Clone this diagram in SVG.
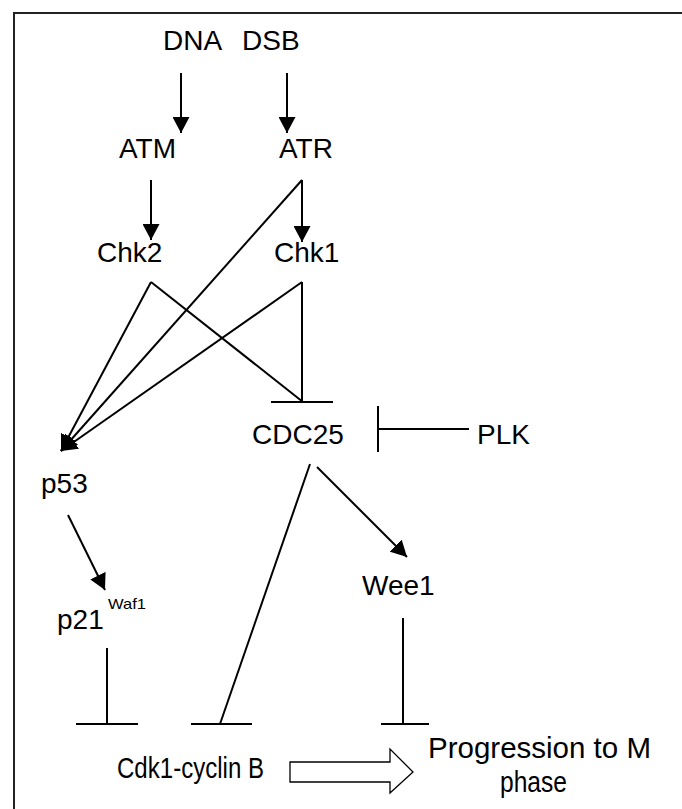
<svg xmlns="http://www.w3.org/2000/svg" width="682" height="809" viewBox="0 0 682 809">
  <style>
    .lbl { font-family: "Liberation Sans", Arial, sans-serif; font-size: 28px; fill: #000; }
    .big { font-family: "Liberation Sans", Arial, sans-serif; font-size: 30px; fill: #000; }
    .sup { font-family: "Liberation Sans", Arial, sans-serif; font-size: 15px; fill: #000; }
    .act { stroke: #000; stroke-width: 2; fill: none; marker-end: url(#arrow); }
    .inh { stroke: #000; stroke-width: 2; fill: none; }
    .bar { stroke: #000; stroke-width: 2; fill: none; }
  </style>
  <defs>
    <marker id="arrow" viewBox="0 0 16 17" refX="16" refY="8.5" markerWidth="16" markerHeight="17" markerUnits="userSpaceOnUse" orient="auto">
      <path d="M0,0 L16,8.5 L0,17 Z" fill="#000"/>
    </marker>
  </defs>

  <rect width="682" height="809" fill="#fff"/>
  <!-- frame (left and top edges) -->
  <polyline points="14,809 14,13 682,13" fill="none" stroke="#222" stroke-width="2"/>

  <!-- nodes -->
  <g id="dna"><text class="lbl" x="163" y="50">DNA</text></g>
  <g id="dsb"><text class="lbl" x="242" y="50">DSB</text></g>
  <g id="atm"><text class="lbl" x="119" y="158">ATM</text></g>
  <g id="atr"><text class="lbl" x="279" y="158">ATR</text></g>
  <g id="chk2"><text class="lbl" x="97" y="262">Chk2</text></g>
  <g id="chk1"><text class="lbl" x="274" y="262">Chk1</text></g>
  <g id="cdc25"><text class="lbl" x="252" y="444">CDC25</text></g>
  <g id="plk"><text class="lbl" x="477" y="444">PLK</text></g>
  <g id="p53"><text class="lbl" x="41" y="493">p53</text></g>
  <g id="p21"><text class="lbl" x="57" y="629">p21</text><text class="sup" x="108" y="609" textLength="38" lengthAdjust="spacingAndGlyphs">Waf1</text></g>
  <g id="wee1"><text class="lbl" x="362" y="595">Wee1</text></g>
  <g id="cdk1"><text class="big" x="117" y="778" textLength="147" lengthAdjust="spacingAndGlyphs">Cdk1-cyclin B</text></g>
  <g id="mphase">
    <text class="big" x="428" y="758" textLength="223" lengthAdjust="spacingAndGlyphs">Progression to M</text>
    <text class="big" x="500" y="792" textLength="67" lengthAdjust="spacingAndGlyphs">phase</text>
  </g>

  <!-- connectors -->
  <g id="connectors">
    <!-- activation arrows -->
    <line class="act" x1="181" y1="73" x2="181" y2="133"/>
    <line class="act" x1="287" y1="73" x2="287" y2="133"/>
    <line class="act" x1="151" y1="180" x2="151" y2="240"/>
    <line class="act" x1="302" y1="180" x2="302" y2="242"/>
    <line class="act" x1="151" y1="282" x2="61" y2="451"/>
    <line class="act" x1="302" y1="180" x2="61" y2="451"/>
    <line class="act" x1="302" y1="282" x2="61" y2="451"/>
    <line class="act" x1="68" y1="515" x2="105" y2="590"/>
    <line class="act" x1="317" y1="467" x2="407" y2="557"/>

    <!-- inhibition of CDC25 by Chk2 / Chk1 -->
    <line class="inh" x1="151" y1="282" x2="303" y2="402"/>
    <line class="inh" x1="302" y1="282" x2="302" y2="402"/>
    <line class="bar" x1="271" y1="402" x2="333" y2="402"/>

    <!-- inhibition of CDC25 by PLK -->
    <line class="inh" x1="469" y1="429" x2="378" y2="429"/>
    <line class="bar" x1="378" y1="406" x2="378" y2="452"/>

    <!-- inhibition of Cdk1-cyclin B -->
    <line class="inh" x1="107" y1="648" x2="107" y2="724"/>
    <line class="bar" x1="76" y1="724" x2="138" y2="724"/>
    <line class="inh" x1="310" y1="464" x2="220" y2="724"/>
    <line class="bar" x1="191" y1="724" x2="252" y2="724"/>
    <line class="inh" x1="403" y1="618" x2="403" y2="724"/>
    <line class="bar" x1="381" y1="724" x2="429" y2="724"/>

    <!-- hollow block arrow -->
    <path d="M290,762 L390,762 L390,749 L413,772 L390,793 L390,782 L290,782 Z" fill="#fff" stroke="#000" stroke-width="1.3"/>
  </g>
</svg>
